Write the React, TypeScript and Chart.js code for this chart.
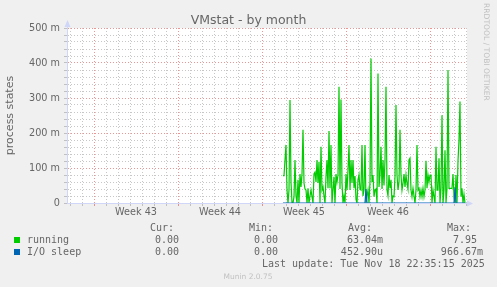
import React, { useEffect, useRef } from 'react';
import { Chart, registerables } from 'chart.js';

Chart.register(...registerables);

// ---------- text ----------
const TITLE = 'VMstat - by month';
const Y_AXIS_TITLE = 'process states';
const WATERMARK = 'RRDTOOL / TOBI OETIKER';
const FOOTER = 'Munin 2.0.75';
const LAST_UPDATE = 'Last update: Tue Nov 18 22:35:15 2025';

// ---------- axes ----------
const WEEK_LABELS = ['Week 43', 'Week 44', 'Week 45', 'Week 46'];
const Y_TICK_VALUES = [0, 100, 200, 300, 400, 500];
const Y_TICK_LABELS = ['0', '100 m', '200 m', '300 m', '400 m', '500 m'];
const Y_MINOR_STEP = 20; // minor grid every 20 m
const X_RANGE_DAYS = 33.3333; // month view span (days)
const X_FIRST_DAY_LINE = 0.25; // first day gridline (days from left edge)
const WEEK_START_DAY_INDEX = 2; // day line index that starts a week

// ---------- series ----------
const SERIES_NAMES = ['running', 'I/O sleep'];
const SERIES_COLORS = ['#00cc00', '#0066b3'];
const CUR = ['0.00', '0.00'];
const MIN = ['0.00', '0.00'];
const AVG = ['63.04m', '452.90u'];
const MAX = ['7.95', '966.67m'];

const DATA_START_DAY = 18; // first sample (days from left edge)
const SLOT_DAYS = 1 / 12; // 2-hour samples

// values in milli-units (m)
const RUNNING = [
  78, 78, 123, 166, 37, 0, 37, 294, 60, 0,
  0, 18, 123, 20, 0, 66, 0, 83, 46, 83,
  209, 57, 40, 37, 0, 42, 0, 20, 37, 18,
  0, 83, 88, 60, 123, 57, 118, 0, 161, 37,
  46, 20, 0, 75, 123, 42, 206, 42, 166, 0,
  37, 75, 0, 83, 60, 80, 332, 40, 296, 57,
  0, 20, 0, 83, 37, 94, 166, 37, 123, 57,
  123, 42, 77, 10, 0, 66, 80, 40, 37, 166,
  20, 37, 166, 0, 20, 37, 0, 60, 413, 60,
  80, 18, 37, 40, 0, 370, 46, 80, 161, 40,
  123, 50, 123, 332, 37, 20, 80, 42, 66, 0,
  20, 18, 75, 280, 80, 37, 60, 209, 80, 37,
  57, 83, 46, 80, 57, 40, 123, 128, 37, 18,
  42, 20, 0, 37, 166, 37, 42, 18, 37, 18,
  42, 18, 37, 121, 42, 80, 60, 80, 80, 0,
  37, 18, 0, 161, 37, 37, 128, 0, 42, 251,
  0, 37, 151, 0, 42, 380, 42, 42, 42, 42,
  83, 18, 0, 80, 0, 121, 180, 290, 18, 42,
  0, 25, 0,
];

const IO_SLEEP = [
  0, 0, 0, 0, 0, 0, 0, 0, 0, 0,
  0, 0, 0, 0, 0, 0, 0, 0, 0, 0,
  0, 0, 0, 0, 0, 0, 0, 0, 0, 0,
  0, 0, 0, 0, 0, 0, 0, 0, 0, 0,
  0, 0, 0, 0, 0, 0, 0, 0, 0, 0,
  0, 0, 0, 0, 0, 0, 0, 0, 0, 0,
  0, 0, 0, 0, 0, 0, 0, 0, 0, 0,
  0, 0, 0, 0, 0, 0, 0, 0, 0, 0,
  0, 0, 0, 40, 0, 0, 0, 0, 0, 0,
  0, 0, 0, 0, 0, 0, 0, 0, 0, 0,
  0, 0, 0, 0, 0, 0, 0, 0, 0, 0,
  0, 0, 0, 0, 0, 0, 0, 0, 0, 0,
  0, 0, 0, 0, 0, 0, 0, 0, 0, 0,
  0, 0, 0, 0, 0, 0, 0, 0, 0, 0,
  0, 0, 0, 0, 0, 0, 0, 0, 0, 0,
  0, 0, 0, 0, 0, 0, 0, 0, 0, 0,
  0, 0, 0, 0, 0, 0, 0, 0, 0, 0,
  0, 0, 44, 0, 0, 0, 0, 0, 0, 0,
  0, 0, 0,
];

// ---------- style ----------
const BG = '#f0f0f0';
const FONT_COLOR = '#666666';
const AXIS_COLOR = '#cfd6f8';
const GRID = 'rgba(143,143,143,0.5)';
const MGRID = 'rgba(222,79,79,0.6)';
const SANS = '"DejaVu Sans", sans-serif';
const MONO = '"DejaVu Sans Mono", monospace';

const W = 497;
const H = 287;

const toPoints = (arr: number[]) =>
  arr.map((v, i) => ({ x: DATA_START_DAY + i * SLOT_DAYS, y: v }));

const muninPlugin = {
  id: 'muninDecor',
  beforeDraw(chart: any) {
    const { ctx, chartArea: a } = chart;
    ctx.save();
    ctx.fillStyle = BG;
    ctx.fillRect(0, 0, chart.width, chart.height);
    ctx.fillStyle = '#ffffff';
    ctx.fillRect(a.left, a.top, a.right - a.left, a.bottom - a.top);
    ctx.restore();
  },
  afterDraw(chart: any) {
    const { ctx, chartArea: a } = chart;
    ctx.save();
    // axis arrows
    ctx.fillStyle = AXIS_COLOR;
    ctx.strokeStyle = AXIS_COLOR;
    ctx.lineWidth = 1;
    const ax = Math.round(a.left) + 0.5;
    ctx.beginPath();
    ctx.moveTo(ax, a.top);
    ctx.lineTo(ax, a.top - 4);
    ctx.stroke();
    ctx.beginPath();
    ctx.moveTo(ax, a.top - 8);
    ctx.lineTo(ax - 3, a.top - 1);
    ctx.lineTo(ax + 3, a.top - 1);
    ctx.closePath();
    ctx.fill();
    const ay = Math.round(a.bottom) + 0.5;
    ctx.beginPath();
    ctx.moveTo(a.right, ay);
    ctx.lineTo(a.right + 2, ay);
    ctx.stroke();
    ctx.beginPath();
    ctx.moveTo(a.right + 6, ay);
    ctx.lineTo(a.right + 0, ay - 3);
    ctx.lineTo(a.right + 0, ay + 3);
    ctx.closePath();
    ctx.fill();

    // title
    ctx.fillStyle = FONT_COLOR;
    ctx.font = `12.5px ${SANS}`;
    ctx.textAlign = 'center';
    ctx.textBaseline = 'alphabetic';
    ctx.fillText(TITLE, 248.5, 24);

    // watermark (vertical, right side)
    ctx.save();
    ctx.translate(484, 3);
    ctx.rotate(Math.PI / 2);
    ctx.fillStyle = 'rgba(102,102,102,0.35)';
    ctx.font = `7.6px ${SANS}`;
    ctx.textAlign = 'left';
    ctx.fillText(WATERMARK, 0, 0);
    ctx.restore();

    // legend header
    ctx.fillStyle = FONT_COLOR;
    ctx.font = `10px ${MONO}`;
    ctx.textAlign = 'left';
    const headX = [150, 249, 348, 447];
    ['Cur:', 'Min:', 'Avg:', 'Max:'].forEach((h, i) => ctx.fillText(h, headX[i], 231));

    const colRight = [185, 284, 383, 483];
    const cols = [CUR, MIN, AVG, MAX];
    SERIES_NAMES.forEach((name, r) => {
      const base = 243 + r * 12;
      ctx.fillStyle = SERIES_COLORS[r];
      ctx.fillRect(14, base - 6, 6, 6);
      ctx.fillStyle = FONT_COLOR;
      ctx.textAlign = 'left';
      ctx.fillText(name, 27, base);
      ctx.textAlign = 'right';
      cols.forEach((col, c) => {
        const s = col[r];
        const txt = /[a-z]$/i.test(s) ? s : s + ' ';
        ctx.fillText(txt, colRight[c], base);
      });
    });
    ctx.textAlign = 'left';
    ctx.fillText(LAST_UPDATE, 262, 267);

    // footer
    ctx.fillStyle = 'rgba(102,102,102,0.35)';
    ctx.font = `7.5px ${SANS}`;
    ctx.textAlign = 'center';
    ctx.fillText(FOOTER, 248, 279);
    ctx.restore();
  },
};

export default function App() {
  const ref = useRef<HTMLCanvasElement | null>(null);

  useEffect(() => {
    document.body.style.margin = '0';
    document.body.style.background = BG;
    const canvas = ref.current;
    if (!canvas) return;

    const chart = new Chart(canvas, {
      type: 'line',
      data: {
        datasets: [
          {
            label: SERIES_NAMES[0],
            data: toPoints(RUNNING),
            borderColor: SERIES_COLORS[0],
            borderWidth: 1.2,
            pointRadius: 0,
            tension: 0,
            fill: false,
            order: 2,
          },
          {
            label: SERIES_NAMES[1],
            data: toPoints(IO_SLEEP),
            borderColor: SERIES_COLORS[1],
            borderWidth: 1.2,
            pointRadius: 0,
            tension: 0,
            fill: false,
            order: 1,
          },
        ],
      },
      options: {
        responsive: false,
        animation: false,
        devicePixelRatio: 1,
        layout: { padding: { left: 0, top: 28, right: 30, bottom: 64 } },
        plugins: {
          legend: { display: false },
          tooltip: { enabled: false },
          title: { display: false },
        },
        scales: {
          x: {
            type: 'linear',
            min: 0,
            max: X_RANGE_DAYS,
            afterFit: (s: any) => {
              s.height = 20;
            },
            afterBuildTicks: (s: any) => {
              const t: { value: number }[] = [];
              for (let i = 0; X_FIRST_DAY_LINE + i * 0.5 <= X_RANGE_DAYS; i++) {
                t.push({ value: X_FIRST_DAY_LINE + i * 0.5 });
              }
              s.ticks = t;
            },
            ticks: {
              autoSkip: false,
              maxRotation: 0,
              minRotation: 0,
              padding: 1,
              color: FONT_COLOR,
              font: { family: SANS, size: 9.7 },
              callback: (_v: any, index: number) => {
                const k = index - 11;
                if (k >= 0 && k % 14 === 0) return WEEK_LABELS[k / 14] ?? '';
                return '';
              },
            },
            grid: {
              lineWidth: 1,
              drawTicks: true,
              tickLength: 3,
              color: (c: any) => {
                if (!c.tick) return 'transparent';
                const k = Math.round((c.tick.value - X_FIRST_DAY_LINE) * 2);
                if (k % 2 !== 0) return 'transparent';
                const d = k / 2;
                return (d - WEEK_START_DAY_INDEX) % 7 === 0 ? MGRID : GRID;
              },
            },
            border: { display: true, color: AXIS_COLOR, width: 1, dash: [1, 2] },
          },
          y: {
            min: 0,
            max: 500,
            afterFit: (s: any) => {
              s.width = 67;
            },
            afterBuildTicks: (s: any) => {
              const t: { value: number }[] = [];
              for (let v = 0; v <= 500; v += Y_MINOR_STEP) t.push({ value: v });
              s.ticks = t;
            },
            ticks: {
              autoSkip: false,
              padding: 4,
              color: FONT_COLOR,
              font: { family: SANS, size: 9.7 },
              callback: (v: any) => {
                const i = Y_TICK_VALUES.indexOf(Number(v));
                return i >= 0 ? Y_TICK_LABELS[i] : '';
              },
            },
            grid: {
              lineWidth: 1,
              drawTicks: true,
              tickLength: 3,
              color: (c: any) => {
                if (!c.tick) return GRID;
                return c.tick.value % 100 === 0 ? MGRID : GRID;
              },
              tickColor: GRID,
            },
            border: { display: true, color: AXIS_COLOR, width: 1, dash: [1, 2] },
            title: {
              display: true,
              text: Y_AXIS_TITLE,
              color: FONT_COLOR,
              font: { family: SANS, size: 11 },
              padding: { top: 4, bottom: 0 },
            },
          },
        },
      },
      plugins: [muninPlugin],
    });

    return () => chart.destroy();
  }, []);

  return (
    <div style={{ width: W, height: H, background: BG }}>
      <canvas ref={ref} width={W} height={H} style={{ display: 'block' }} />
    </div>
  );
}
